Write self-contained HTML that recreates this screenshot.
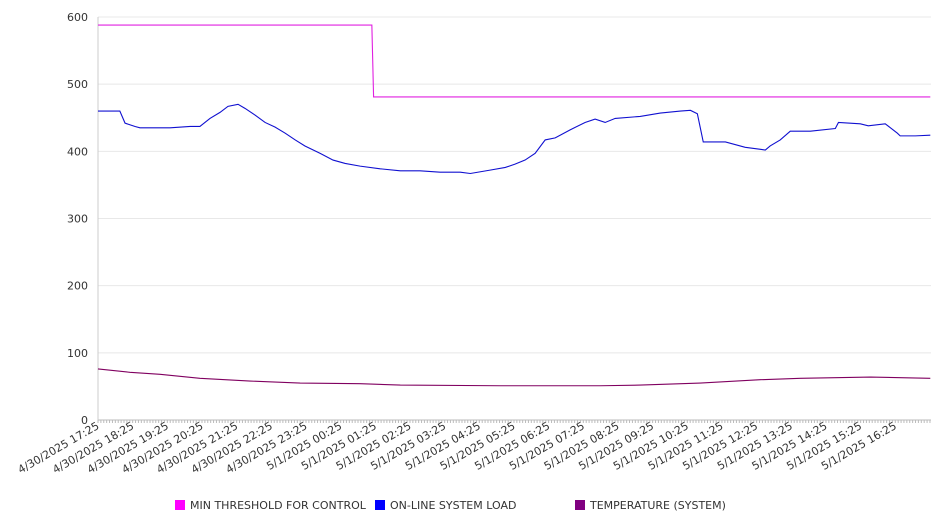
<!DOCTYPE html>
<html><head><meta charset="utf-8"><style>
body{margin:0;background:#fff;font-family:"DejaVu Sans","Liberation Sans",sans-serif}
svg text{font-family:"DejaVu Sans","Liberation Sans",sans-serif;fill:#333}
</style></head><body>
<svg id="chart" width="946" height="526" xmlns="http://www.w3.org/2000/svg">
<g id="grid"></g>
<g id="axes"></g>
<g id="series"></g>
<g id="legend">
<rect x="175" y="500" width="10" height="10" fill="#ff00ff"/>
<text x="190" y="509" font-size="11">MIN THRESHOLD FOR CONTROL</text>
<rect x="375" y="500" width="10" height="10" fill="#0000ff"/>
<text x="390" y="509" font-size="11">ON-LINE SYSTEM LOAD</text>
<rect x="575" y="500" width="10" height="10" fill="#800080"/>
<text x="590" y="509" font-size="11">TEMPERATURE (SYSTEM)</text>
</g>
</svg>
<script>
const yTicks=[0,100,200,300,400,500,600];
const xLabels=["4/30/2025 17:25","4/30/2025 18:25","4/30/2025 19:25","4/30/2025 20:25","4/30/2025 21:25","4/30/2025 22:25","4/30/2025 23:25","5/1/2025 00:25","5/1/2025 01:25","5/1/2025 02:25","5/1/2025 03:25","5/1/2025 04:25","5/1/2025 05:25","5/1/2025 06:25","5/1/2025 07:25","5/1/2025 08:25","5/1/2025 09:25","5/1/2025 10:25","5/1/2025 11:25","5/1/2025 12:25","5/1/2025 13:25","5/1/2025 14:25","5/1/2025 15:25","5/1/2025 16:25"];
const loadHours=[0,0.63,0.78,1.07,1.21,1.5,2.08,2.66,2.94,3.23,3.52,3.75,4.04,4.24,4.53,4.82,5.11,5.4,5.69,5.97,6.41,6.78,7.13,7.56,8.14,8.72,9.29,9.87,10.45,10.74,11.31,11.75,12.03,12.32,12.61,12.9,13.19,13.62,14.05,14.34,14.63,14.92,15.64,16.22,16.8,17.09,17.29,17.46,18.1,18.67,19.11,19.25,19.39,19.68,19.97,20.55,21.27,21.36,21.99,22.22,22.71,23.06,23.14,23.58,24.01];
const loadValues=[460,460,442,437,435,435,435,437,437,449,458,467,470,464,454,443,436,427,417,408,397,387,382,378,374,371,371,369,369,367,372,376,381,387,397,417,420,432,443,448,443,449,452,457,460,461,456,414,414,406,403,402,408,417,430,430,434,443,441,438,441,427,423,423,424];
const tempHours=[0,0.92,1.79,2.94,4.39,5.83,7.56,8.72,11.6,14.49,15.64,17.37,19.11,20.26,22.28,24.01];
const tempValues=[76,71,68,62,58,55,54,52,51,51,52,55,60,62,64,62];
const threshHours=[0,7.9,7.95,24.01];
const threshValues=[588,588,481,481];
const X0=98,X1=931,Y0=420,Y1=17,HMAX=24.03,VMAX=600;
const xs=h=>X0+h/HMAX*(X1-X0), ys=v=>Y0-v/VMAX*(Y0-Y1);
const NS="http://www.w3.org/2000/svg";
function mk(t,a,p){const e=document.createElementNS(NS,t);for(const k in a)e.setAttribute(k,a[k]);p.appendChild(e);return e;}
const grid=document.getElementById('grid'),axes=document.getElementById('axes'),series=document.getElementById('series');
yTicks.forEach(v=>{
 const l=mk('line',{x1:X0,x2:X1,y1:ys(v),y2:ys(v),stroke:v===0?'#bbb':'#e8e8e8'},grid);
 
 
 const t=mk('text',{x:88,y:ys(v)+4,'text-anchor':'end','font-size':11},axes);
 t.textContent=v;
 
 
});
const ya=mk('line',{x1:X0,x2:X0,y1:Y1,y2:Y0,stroke:'#ccc'},axes);


for(let i=0;i<=24*12;i++){const x=xs(i/12);if(x>X1)break;const m=mk('line',{x1:x,x2:x,y1:Y0,y2:Y0+3,stroke:'#bbb'},axes);
 
 }
xLabels.forEach((s,i)=>{const x=xs(i)+2,y=Y0+8;
 const t=mk('text',{x:x,y:y,'text-anchor':'end','font-size':11,transform:`rotate(-30 ${x} ${y})`},axes);
 t.textContent=s;
 
 });
function line(hs,vs,color,name){
 const p=mk('polyline',{points:hs.map((h,i)=>xs(h)+','+ys(vs[i])).join(' '),fill:'none',stroke:color,'stroke-width':1.1},series);
 
 
}
line(threshHours,threshValues,'#e020e0','threshold-line');
line(loadHours,loadValues,'#1010d0','load-line');
line(tempHours,tempValues,'#800060','temperature-line');
</script>
</body></html>
